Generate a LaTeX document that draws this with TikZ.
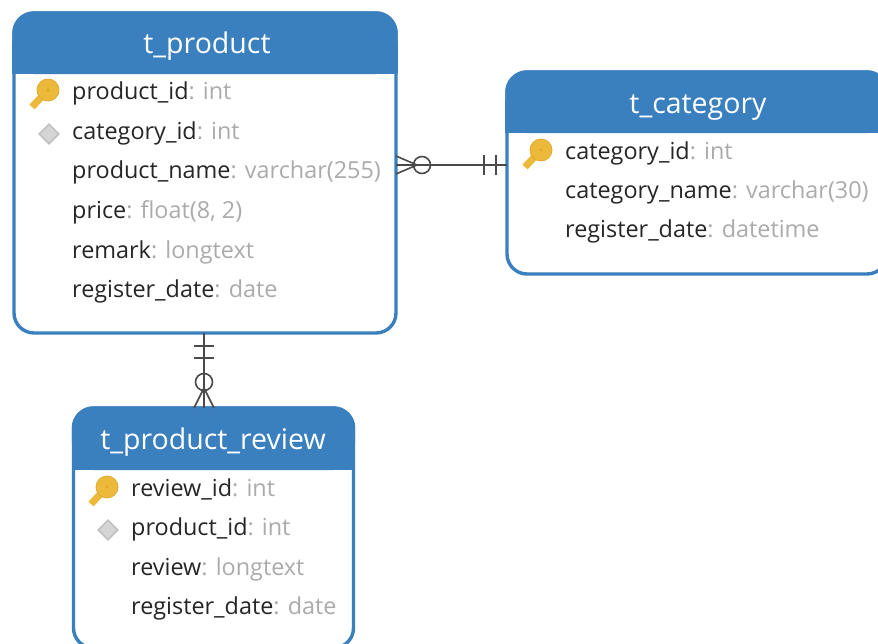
\documentclass[tikz,border=0pt]{standalone}
\usepackage{fontspec}
\setmainfont{Open Sans}
\usetikzlibrary{shapes.geometric}
\definecolor{hdr}{HTML}{3A80BF}
\definecolor{txt}{HTML}{262626}
\definecolor{typ}{HTML}{ABABAB}
\definecolor{keyc}{HTML}{EDB93A}
\definecolor{keyd}{HTML}{E0AA30}
\definecolor{lnk}{HTML}{4A4A4A}
\tikzset{
  tbl/.style={draw=hdr,line width=3.4pt,fill=white,rounded corners=20pt,rectangle,inner sep=0pt,outer sep=0pt,anchor=north west},
  tbltitle/.style={text=white,font=\fontsize{28.5}{32}\selectfont,anchor=base,inner sep=0pt},
  field/.style={text=txt,font=\fontsize{23.4}{27}\selectfont,anchor=base west,inner sep=0pt},
  rel/.style={draw=lnk,line width=1.6pt},
  fkmark/.style={diamond,fill=typ!50,draw=typ!75,line width=1.6pt,minimum size=20pt,inner sep=0pt},
  ringmark/.style={circle,draw=lnk,line width=1.6pt,minimum size=17pt,inner sep=0pt},
}
\newcommand{\ftype}[1]{\textcolor{typ}{#1}}
\newcommand{\keyicon}[3]{%
  \draw[keyc,line width=7pt] (#1,#2) -- ++(-16,17);
  \node[circle,fill=keyc,draw=keyd,line width=.8pt,minimum size=22pt,inner sep=0pt] (#3) at (#1,#2) {};
  \fill[keyd] (#1,#2) circle (1.8pt);
}
\newcommand{\headfill}[2]{%
  \fill[hdr,rounded corners=20pt] (#1.north west) -- (#1.north east) -- ([yshift=-#2]#1.north east) -- ([yshift=-#2]#1.north west) -- cycle;
  \filldraw[hdr,line width=3.4pt] ([yshift=-30pt]#1.north west) rectangle ([yshift=-#2+1.7pt]#1.north east);
  \draw[hdr,line width=3.4pt,rounded corners=20pt] ([yshift=-35pt]#1.north west) -- (#1.north west) -- (#1.north east) -- ([yshift=-35pt]#1.north east);
}
\begin{document}
\begin{tikzpicture}[x=1pt,y=-1pt]
\useasboundingbox[clip] (0,0) rectangle (878,643);
\fill[white] (0,0) rectangle (878,643);
% tables
\node[tbl,minimum width=382pt,minimum height=320pt] (prod) at (14,13) {};
\node[tbl,minimum width=380pt,minimum height=202pt] (cat) at (507,72) {};
\node[tbl,minimum width=280pt,minimum height=240pt] (rev) at (73.5,408) {};
% headers
\headfill{prod}{61pt}
\headfill{cat}{61pt}
\headfill{rev}{62pt}
\node[tbltitle] (tp) at (207,53) {t\_product};
\node[tbltitle] (tc) at (698,113) {t\_category};
\node[tbltitle] (tr) at (213,449) {t\_product\_review};
% t_product fields
\node[field] (p1) at (72,99) {product\_id\ftype{: int}};
\node[field] (p2) at (72,139) {category\_id\ftype{: int}};
\node[field] (p3) at (72,178) {product\_name\ftype{: varchar(255)}};
\node[field] (p4) at (72,218) {price\ftype{: float(8, 2)}};
\node[field] (p5) at (72,258) {remark\ftype{: longtext}};
\node[field] (p6) at (72,297) {register\_date\ftype{: date}};
% t_category fields
\node[field] (c1) at (565,159) {category\_id\ftype{: int}};
\node[field] (c2) at (565,198) {category\_name\ftype{: varchar(30)}};
\node[field] (c3) at (565,237) {register\_date\ftype{: datetime}};
% t_product_review fields
\node[field] (r1) at (131,496) {review\_id\ftype{: int}};
\node[field] (r2) at (131,535) {product\_id\ftype{: int}};
\node[field] (r3) at (131,575) {review\ftype{: longtext}};
\node[field] (r4) at (131,614) {register\_date\ftype{: date}};
% icons
\keyicon{48}{90}{k1}
\keyicon{541}{150}{k2}
\keyicon{107}{487}{k3}
\node[fkmark] (d1) at (49,134) {};
\node[fkmark] (d2) at (108,530) {};
% relation t_product - t_category
\coordinate (a) at (0,165);
\coordinate (b) at (204,0);
\coordinate (f1) at (417,165);
\coordinate (f2) at (204,388);
\draw[rel] (prod.east |- a) -- (cat.west |- a);
\node[ringmark] (o1) at (422,165) {};
\draw[rel] (prod.east |- 0,156) -- (f1) -- (prod.east |- 0,174);
\draw[rel] (484,155) -- (484,175) (496,155) -- (496,175);
% relation t_product - t_product_review
\draw[rel] (prod.south -| b) -- (rev.north -| b);
\node[ringmark] (o2) at (204,382) {};
\draw[rel] (rev.north -| 194,0) -- (f2) -- (rev.north -| 214,0);
\draw[rel] (194,346) -- (214,346) (194,358) -- (214,358);
\end{tikzpicture}
\end{document}
